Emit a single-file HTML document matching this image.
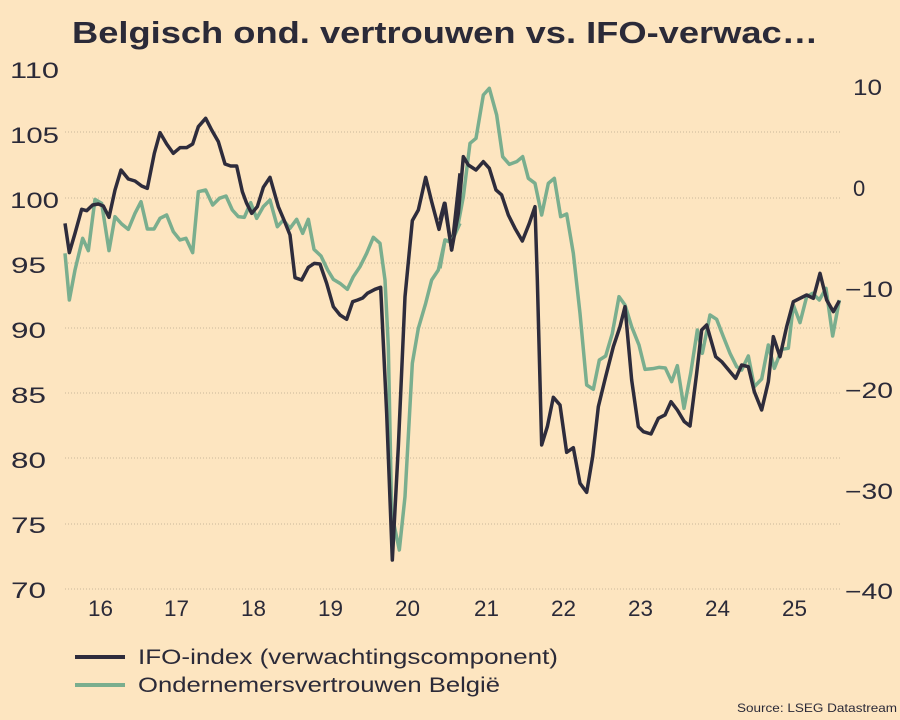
<!DOCTYPE html>
<html><head><meta charset="utf-8"><style>
body{margin:0;background:#fde5c0;}
svg{display:block;font-family:"Liberation Sans",sans-serif;}
</style></head><body>
<svg width="900" height="720" viewBox="0 0 900 720">
<rect width="900" height="720" fill="#fde5c0"/>
<text x="72" y="43" font-size="31" font-weight="bold" fill="#2b2a38" textLength="746" lengthAdjust="spacingAndGlyphs">Belgisch ond. vertrouwen vs. IFO-verwac…</text>
<g stroke="#c9b89a" stroke-width="1" stroke-dasharray="1,2">
<line x1="65" x2="842" y1="132" y2="132"/><line x1="65" x2="842" y1="198" y2="198"/>
<line x1="65" x2="842" y1="263" y2="263"/><line x1="65" x2="842" y1="328" y2="328"/>
<line x1="65" x2="842" y1="393" y2="393"/><line x1="65" x2="842" y1="458" y2="458"/>
<line x1="65" x2="842" y1="524" y2="524"/><line x1="65" x2="842" y1="589" y2="589"/>
</g>
<g font-size="22" fill="#2b2a38">
<text x="10" y="78" textLength="49" lengthAdjust="spacingAndGlyphs">110</text><text x="10" y="143" textLength="49" lengthAdjust="spacingAndGlyphs">105</text><text x="10" y="208" textLength="49" lengthAdjust="spacingAndGlyphs">100</text>
<text x="11" y="273" textLength="35" lengthAdjust="spacingAndGlyphs">95</text><text x="11" y="338" textLength="35" lengthAdjust="spacingAndGlyphs">90</text><text x="11" y="403" textLength="35" lengthAdjust="spacingAndGlyphs">85</text>
<text x="11" y="468" textLength="35" lengthAdjust="spacingAndGlyphs">80</text><text x="11" y="533" textLength="35" lengthAdjust="spacingAndGlyphs">75</text><text x="11" y="598" textLength="35" lengthAdjust="spacingAndGlyphs">70</text>
<text x="853" y="95" textLength="29" lengthAdjust="spacingAndGlyphs">10</text><text x="853" y="196">0</text><text x="845" y="297" textLength="48" lengthAdjust="spacingAndGlyphs">−10</text>
<text x="845" y="398" textLength="48" lengthAdjust="spacingAndGlyphs">−20</text><text x="845" y="499" textLength="48" lengthAdjust="spacingAndGlyphs">−30</text><text x="845" y="599" textLength="48" lengthAdjust="spacingAndGlyphs">−40</text>
<text x="88" y="616" textLength="25" lengthAdjust="spacingAndGlyphs">16</text><text x="164" y="616" textLength="25" lengthAdjust="spacingAndGlyphs">17</text><text x="241" y="616" textLength="25" lengthAdjust="spacingAndGlyphs">18</text>
<text x="318" y="616" textLength="25" lengthAdjust="spacingAndGlyphs">19</text><text x="395" y="616" textLength="25" lengthAdjust="spacingAndGlyphs">20</text><text x="474" y="616" textLength="25" lengthAdjust="spacingAndGlyphs">21</text>
<text x="551" y="616" textLength="25" lengthAdjust="spacingAndGlyphs">22</text><text x="628" y="616" textLength="25" lengthAdjust="spacingAndGlyphs">23</text><text x="705" y="616" textLength="25" lengthAdjust="spacingAndGlyphs">24</text>
<text x="782" y="616" textLength="25" lengthAdjust="spacingAndGlyphs">25</text>
</g>
<g fill="none" stroke-width="10.5" stroke-linejoin="round">
<g transform="translate(60,80) scale(0.33333)">
<polyline stroke="#7aae8e" points="15,520 28,660 45,570 68,475 85,512 105,358 125,370 147,512 165,410 185,432 205,448 225,400 243,365 262,447 282,447 300,415 320,405 340,455 360,480 378,475 398,518 415,335 437,330 458,375 478,355 498,348 517,390 535,410 553,412 572,368 590,415 610,380 630,360 652,440 670,420 690,445 710,418 728,460 745,418 762,508 783,528 803,570 820,598 840,610 862,628 880,590 900,560 920,520 940,472 960,490 975,600 985,800 995,1300 1018,1410 1035,1250 1057,850 1075,745 1097,670 1115,600 1135,570 1155,480 1175,485 1200,430"/>
<polyline stroke="#2e2c3c" points="15,430 28,518 45,460 65,388 80,392 98,375 115,372 130,378 147,412 165,330 183,270 205,297 225,303 245,318 262,325 283,220 300,158 320,192 340,220 360,203 380,203 398,192 415,140 437,115 455,150 475,185 495,252 512,258 530,258 547,335 560,370 575,400 592,380 610,322 630,292 655,380 672,420 690,465 705,593 725,600 745,562 763,550 780,552 800,610 820,680 840,705 860,718 878,665 893,660 908,654 922,640 945,628 962,622 980,1000 997,1440 1015,1100 1035,650 1057,422 1075,390 1097,292 1115,365 1137,448 1155,370 1175,510 1200,280"/>
</g>
<g transform="translate(440,80) scale(0.33333)">
<polyline stroke="#7aae8e" points="0,565 15,480 35,488 55,430 70,350 90,190 108,175 130,45 148,25 170,105 188,230 208,253 230,245 248,230 265,295 285,310 305,405 325,310 343,295 362,410 380,402 400,520 420,700 440,915 460,928 478,840 497,828 517,760 537,650 555,675 575,740 597,795 615,868 638,866 658,862 676,864 695,905 712,857 732,985 752,880 772,750 787,820 810,705 830,718 850,770 870,820 890,860 905,870 925,828 943,920 965,897 985,795 1003,865 1025,808 1045,805 1060,675 1080,728 1100,650 1118,640 1138,660 1158,625 1178,768 1198,660"/>
<polyline stroke="#2e2c3c" points="0,420 13,370 35,510 55,400 70,230 85,255 108,270 130,245 148,265 168,330 185,345 205,405 225,445 247,483 268,430 285,380 292,600 305,1095 322,1040 340,952 360,975 380,1117 400,1103 420,1210 440,1237 458,1130 475,980 497,890 520,800 540,740 555,680 575,900 595,1040 610,1055 633,1062 655,1015 675,1005 693,965 712,990 733,1025 750,1038 770,880 785,750 800,735 827,830 845,845 870,875 887,895 905,855 925,860 943,935 965,990 985,905 1000,770 1020,830 1040,740 1060,665 1080,655 1100,645 1120,655 1140,580 1160,660 1180,695 1198,662"/>
</g>
</g>
<line x1="75" x2="125" y1="657" y2="657" stroke="#2e2c3c" stroke-width="4"/>
<line x1="75" x2="125" y1="685" y2="685" stroke="#7aae8e" stroke-width="4"/>
<g font-size="21" fill="#2b2a38">
<text x="138" y="664" textLength="420" lengthAdjust="spacingAndGlyphs">IFO-index (verwachtingscomponent)</text>
<text x="138" y="692" textLength="362" lengthAdjust="spacingAndGlyphs">Ondernemersvertrouwen België</text>
</g>
<text x="737" y="712" font-size="12" textLength="160" lengthAdjust="spacingAndGlyphs" fill="#2b2a38">Source: LSEG Datastream</text>
</svg>
</body></html>
